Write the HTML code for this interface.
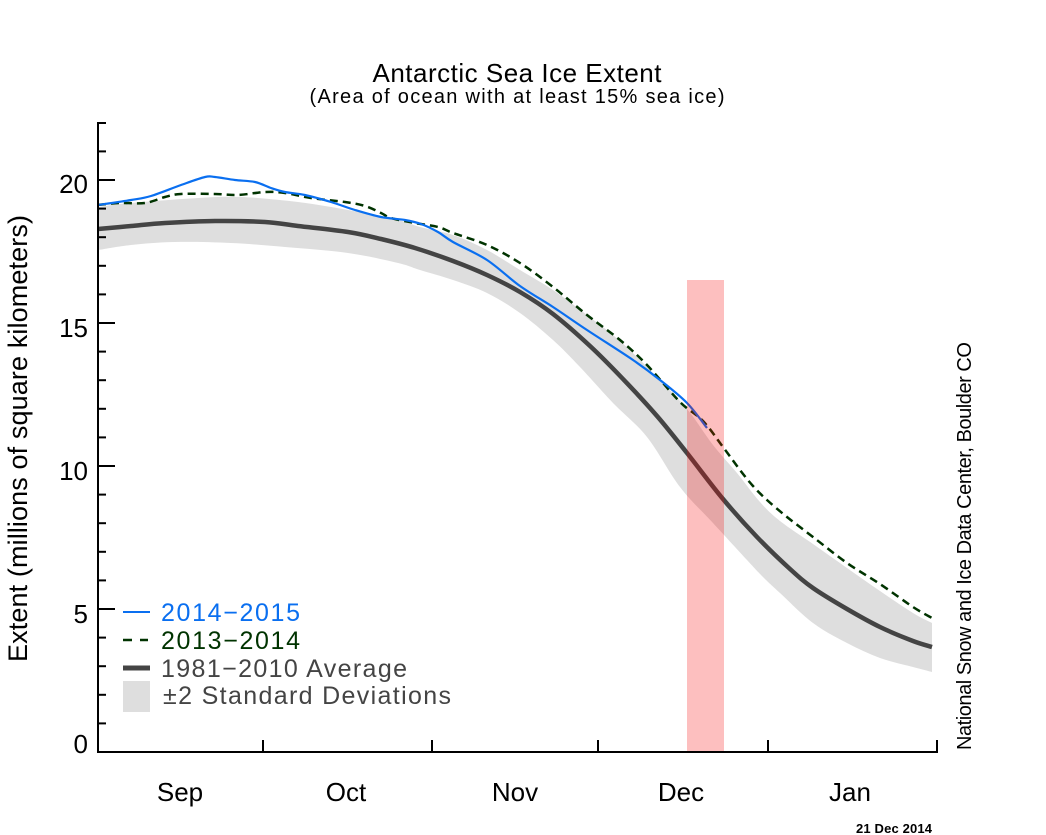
<!DOCTYPE html>
<html>
<head>
<meta charset="utf-8">
<style>
  html,body{margin:0;padding:0;background:#fff;}
  svg{display:block;}
  text{font-family:"Liberation Sans", Arial, sans-serif;}
</style>
</head>
<body>
<svg width="1046" height="835" viewBox="0 0 1046 835" xmlns="http://www.w3.org/2000/svg">
  <rect x="0" y="0" width="1046" height="835" fill="#ffffff"/>

  <!-- Title -->
  <text x="517" y="82" font-size="26" text-anchor="middle" textLength="289" fill="#000">Antarctic Sea Ice Extent</text>
  <text x="517" y="103" font-size="20" text-anchor="middle" textLength="415" fill="#000">(Area of ocean with at least 15% sea ice)</text>

  <!-- ±2 SD band -->
  <path id="band" fill="#dedede" d="M98,207 L131,203 L198,198 L241,197 L298,202 L348,210 L398,220 L420,227 L453,235 L487,250 L520,270 L553,290 L587,315 L620,341 L653,373 L687,409 L713,445 L737,473 L760,502 L780,521 L813,544 L847,568 L880,591 L913,613 L932,623 L932,672 L913,667 L880,658 L847,643 L813,623 L780,593 L763,577 L747,560 L713,523 L680,487 L647,437 L613,403 L580,367 L553,340 L520,313 L487,293 L453,280 L420,270 L398,263 L348,253 L285,247 L231,243 L175,242 L131,245 L98,250 Z"/>

  <!-- Average -->
  <path id="avg" fill="none" stroke="#444444" stroke-width="4.5" stroke-linejoin="round" d="M98,229 L131,226 L165,223 L215,221 L265,222 L298,226 L348,232 L381,239 L415,248 L453,261 L487,275 L520,292 L553,314 L590,346 L623,379 L657,416 L687,453 L723,499 L757,537 L790,569 L813,588 L847,609 L880,627 L913,641 L932,647"/>

  <!-- 2013-2014 dashed -->
  <path id="dash" fill="none" stroke="#003300" stroke-width="2.5" stroke-dasharray="8 5" stroke-linejoin="round" d="M98,205 L120,203 L145,203 L165,197 L181,194 L215,194 L238,195 L265,192 L285,193 L311,198 L345,202 L365,206 L381,213 L391,218 L415,223 L438,227 L453,233 L487,245 L520,263 L553,287 L587,315 L620,340 L647,365 L680,402 L703,421 L723,447 L740,470 L753,486 L767,500 L787,517 L813,537 L847,563 L880,584 L913,607 L932,618"/>

  <!-- 2014-2015 blue -->
  <path id="blue" fill="none" stroke="#0a6ff0" stroke-width="2.2" stroke-linejoin="round" d="M98,205 L131,200 L151,196 L181,185 L205,177 L215,177 L235,180 L255,182 L271,188 L285,192 L305,195 L331,202 L355,210 L381,217 L405,220 L421,224 L438,232 L453,242 L487,260 L520,286 L553,307 L587,330 L633,360 L660,380 L687,403 L707,428"/>

  <!-- Red highlight bar -->
  <rect x="687" y="280" width="37" height="472" fill="rgb(248,0,0)" fill-opacity="0.25"/>

  <!-- Axes -->
  <g stroke="#000" stroke-width="2" fill="none">
    <line x1="98" y1="122" x2="98" y2="753"/>
    <line x1="97" y1="752" x2="938" y2="752"/>
    <line x1="263" y1="752" x2="263" y2="740"/>
    <line x1="432" y1="752" x2="432" y2="740"/>
    <line x1="598" y1="752" x2="598" y2="740"/>
    <line x1="768" y1="752" x2="768" y2="740"/>
    <line x1="937" y1="753" x2="937" y2="740"/>
    <line x1="98" y1="609" x2="115" y2="609"/>
    <line x1="98" y1="466" x2="115" y2="466"/>
    <line x1="98" y1="323" x2="115" y2="323"/>
    <line x1="98" y1="180" x2="115" y2="180"/>
    <line x1="98" y1="723.4" x2="106" y2="723.4"/>
    <line x1="98" y1="694.8" x2="106" y2="694.8"/>
    <line x1="98" y1="666.2" x2="106" y2="666.2"/>
    <line x1="98" y1="637.6" x2="106" y2="637.6"/>
    <line x1="98" y1="580.4" x2="106" y2="580.4"/>
    <line x1="98" y1="551.8" x2="106" y2="551.8"/>
    <line x1="98" y1="523.2" x2="106" y2="523.2"/>
    <line x1="98" y1="494.6" x2="106" y2="494.6"/>
    <line x1="98" y1="437.4" x2="106" y2="437.4"/>
    <line x1="98" y1="408.8" x2="106" y2="408.8"/>
    <line x1="98" y1="380.2" x2="106" y2="380.2"/>
    <line x1="98" y1="351.6" x2="106" y2="351.6"/>
    <line x1="98" y1="294.4" x2="106" y2="294.4"/>
    <line x1="98" y1="265.8" x2="106" y2="265.8"/>
    <line x1="98" y1="237.2" x2="106" y2="237.2"/>
    <line x1="98" y1="208.6" x2="106" y2="208.6"/>
    <line x1="98" y1="151.4" x2="106" y2="151.4"/>
    <line x1="98" y1="123" x2="106" y2="123"/>
  </g>

  <!-- Y tick labels -->
  <g font-size="26" fill="#000" text-anchor="end">
    <text x="88" y="193">20</text>
    <text x="88" y="337">15</text>
    <text x="88" y="480">10</text>
    <text x="88" y="623">5</text>
    <text x="88" y="753">0</text>
  </g>

  <!-- X month labels -->
  <g font-size="26" fill="#000" text-anchor="middle">
    <text x="180" y="801">Sep</text>
    <text x="346" y="801">Oct</text>
    <text x="515" y="801">Nov</text>
    <text x="681" y="801">Dec</text>
    <text x="850" y="801">Jan</text>
  </g>

  <!-- Y axis title -->
  <text transform="translate(27,438.5) rotate(-90)" x="0" y="0" font-size="27" text-anchor="middle" textLength="447" fill="#000">Extent (millions of square kilometers)</text>

  <!-- Right credit -->
  <text transform="translate(971,546) rotate(-90)" x="0" y="0" font-size="20" text-anchor="middle" textLength="408" fill="#000">National Snow and Ice Data Center, Boulder CO</text>

  <!-- Date -->
  <text x="894" y="833" font-size="13" font-weight="bold" text-anchor="middle" textLength="76" fill="#000">21 Dec 2014</text>

  <!-- Legend -->
  <line x1="123" y1="612" x2="150" y2="612" stroke="#0a6ff0" stroke-width="2"/>
  <text x="161" y="621" font-size="25" fill="#0a6ff0" textLength="139">2014−2015</text>

  <line x1="123" y1="640" x2="132" y2="640" stroke="#003300" stroke-width="2.5"/>
  <line x1="140" y1="640" x2="148" y2="640" stroke="#003300" stroke-width="2.5"/>
  <text x="161" y="649" font-size="25" fill="#003300" textLength="139">2013−2014</text>

  <line x1="123" y1="668" x2="150" y2="668" stroke="#444444" stroke-width="5"/>
  <text x="161" y="677" font-size="25" fill="#444444" textLength="246">1981−2010 Average</text>

  <rect x="123" y="681" width="27" height="31" fill="#dedede"/>
  <text x="163" y="704" font-size="25" fill="#444444" textLength="288">±2 Standard Deviations</text>
</svg>
<script>
(function(){
  function parse(d){
    var n = d.match(/-?\d+(\.\d+)?/g).map(Number), p = [];
    for (var i = 0; i + 1 < n.length; i += 2) p.push([n[i], n[i+1]]);
    return p;
  }
  function smooth(p, startWithM){
    var s = (startWithM ? "M" : "L") + p[0][0] + "," + p[0][1];
    for (var i = 0; i < p.length - 1; i++){
      var p0 = p[i>0?i-1:i], p1 = p[i], p2 = p[i+1], p3 = p[i+2<p.length?i+2:i+1];
      var c1x = p1[0] + (p2[0]-p0[0])/6, c1y = p1[1] + (p2[1]-p0[1])/6;
      var c2x = p2[0] - (p3[0]-p1[0])/6, c2y = p2[1] - (p3[1]-p1[1])/6;
      s += " C" + c1x.toFixed(2) + "," + c1y.toFixed(2) + " " + c2x.toFixed(2) + "," + c2y.toFixed(2) + " " + p2[0] + "," + p2[1];
    }
    return s;
  }
  try {
    ["avg","dash","blue"].forEach(function(id){
      var el = document.getElementById(id);
      el.setAttribute("d", smooth(parse(el.getAttribute("d")), true));
    });
    var b = document.getElementById("band");
    var pts = parse(b.getAttribute("d"));
    var nUp = 25;
    var up = pts.slice(0, nUp), lo = pts.slice(nUp);
    b.setAttribute("d", smooth(up, true) + " " + smooth(lo, false) + " Z");
  } catch(e) {}
})();
</script>
</body>
</html>
